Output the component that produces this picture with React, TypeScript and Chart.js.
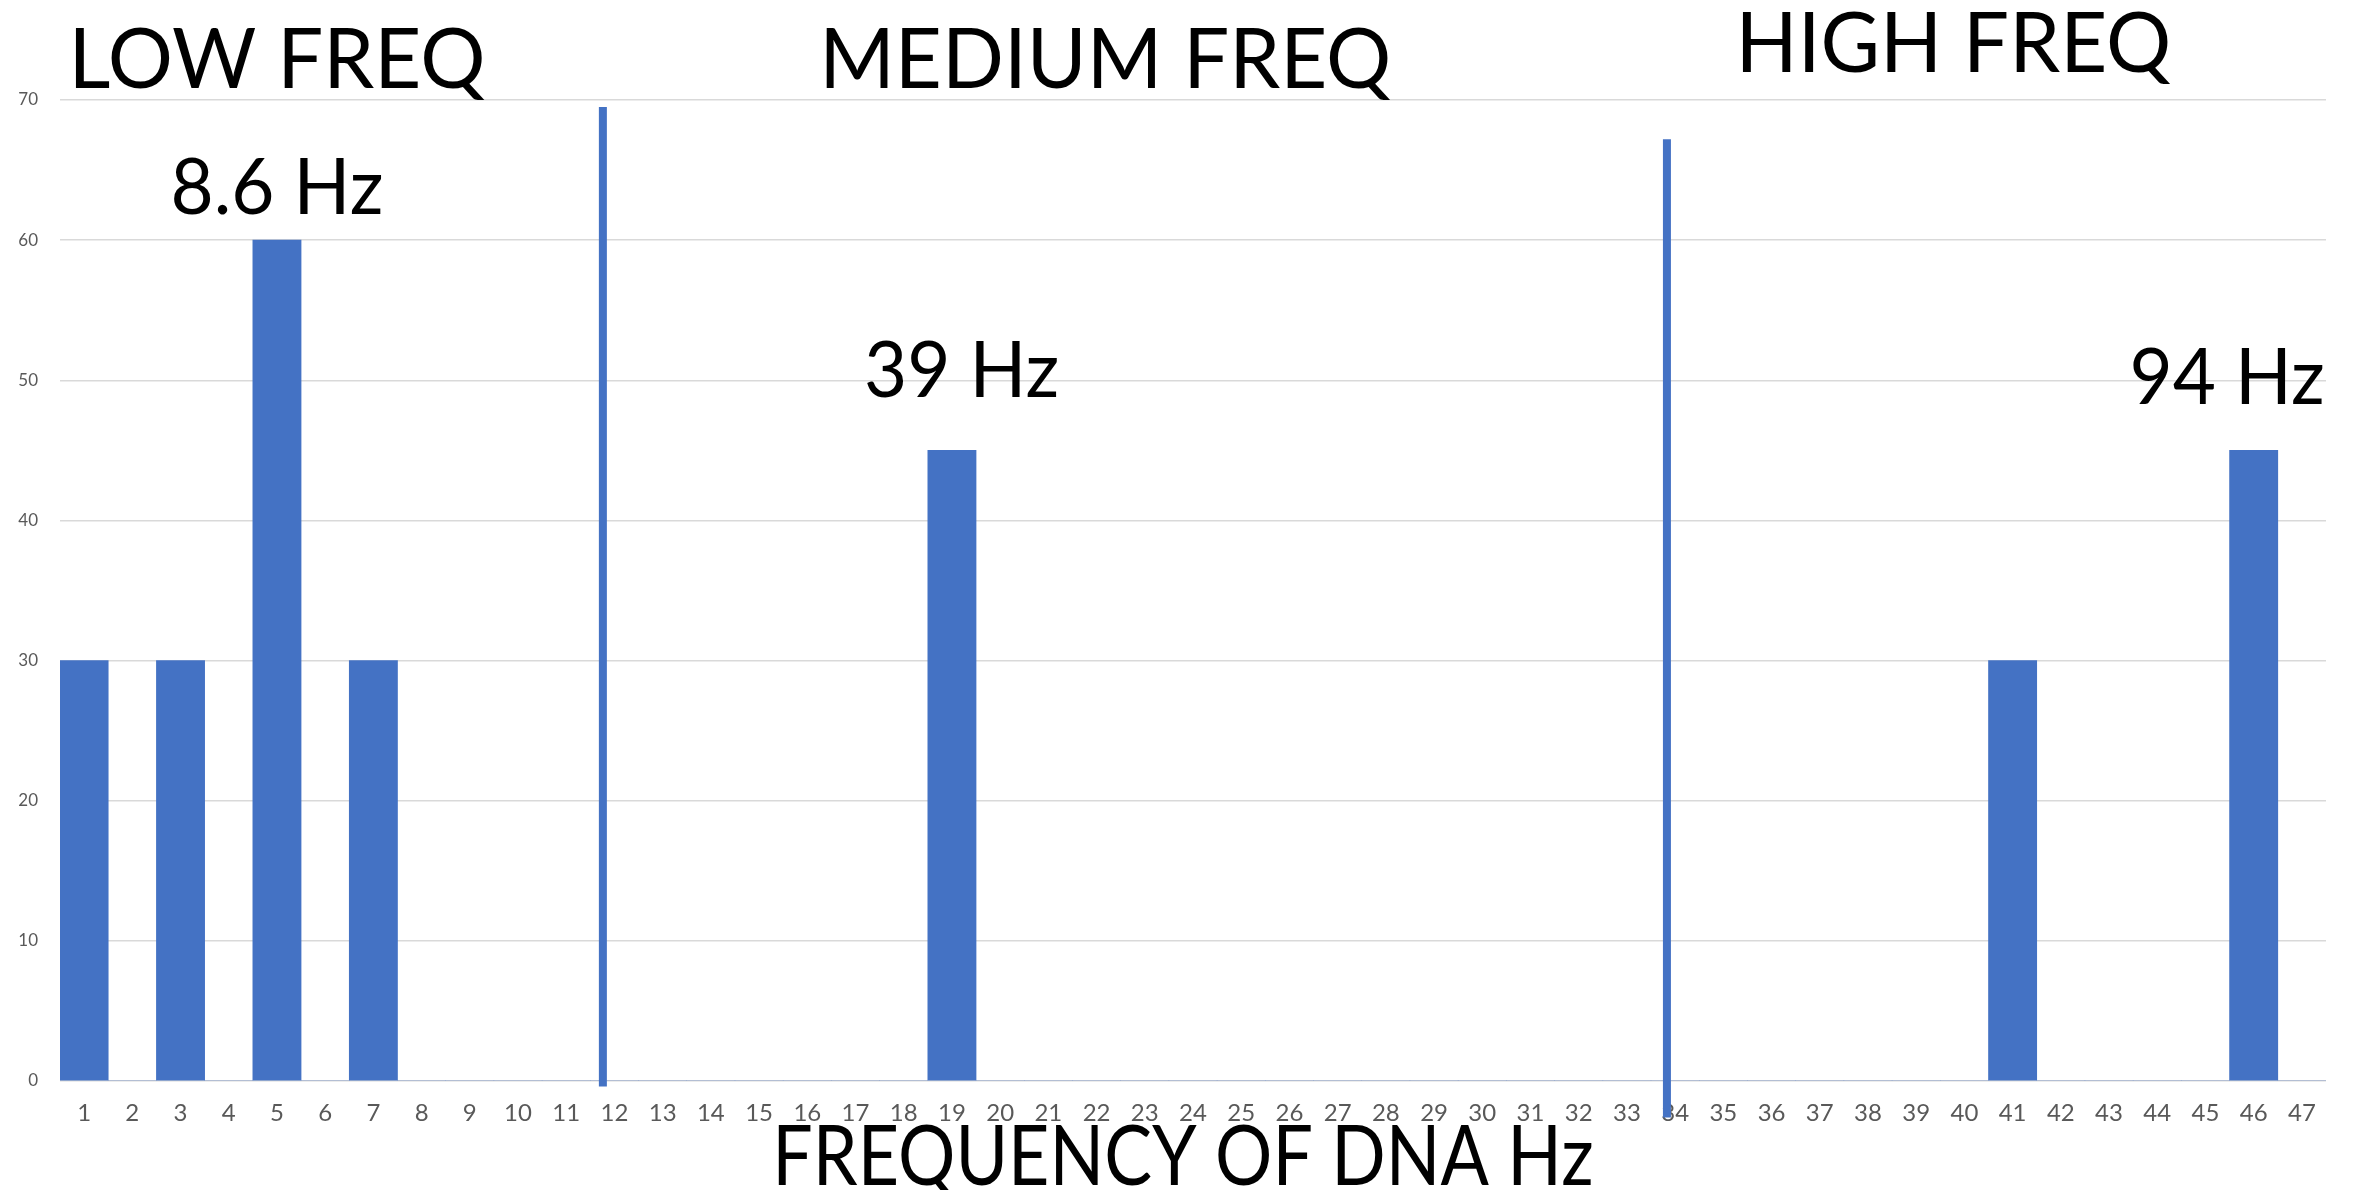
import React, { useEffect, useRef } from "react";
import { Chart, registerables } from "chart.js";

Chart.register(...registerables);

// ---- data ----
const categories = [
  "1", "2", "3", "4", "5", "6", "7", "8", "9", "10",
  "11", "12", "13", "14", "15", "16", "17", "18", "19", "20",
  "21", "22", "23", "24", "25", "26", "27", "28", "29", "30",
  "31", "32", "33", "34", "35", "36", "37", "38", "39", "40",
  "41", "42", "43", "44", "45", "46", "47",
];

const counts = [
  30, 0, 30, 0, 60, 0, 30, 0, 0, 0,
  0, 0, 0, 0, 0, 0, 0, 0, 45, 0,
  0, 0, 0, 0, 0, 0, 0, 0, 0, 0,
  0, 0, 0, 0, 0, 0, 0, 0, 0, 0,
  30, 0, 0, 0, 0, 45, 0,
];

const yMin = 0;
const yMax = 70;
const yStep = 10;

// band divider lines (category index position, value top, value bottom)
const dividerX = [10.76, 32.83];
const dividerTop = [69.5, 67.2];
const dividerBottom = [-0.4, -2.6];

// peak annotations (category index position, value of text baseline)
const peakLabels = ["8.6 Hz", "39 Hz", "94 Hz"];
const peakLabelX = [4.0, 18.2, 44.45];
const peakLabelY = [61.9, 48.8, 48.3];

// band headings (category index position)
const bandLabels = ["LOW FREQ", "MEDIUM FREQ", "HIGH FREQ"];
const bandLabelX = [4.0, 21.18, 38.77];

const xAxisTitle = "FREQUENCY OF DNA Hz";

const BLUE = "#4472C4";
const FONT = "Lato, 'Open Sans', sans-serif";

function drawText(ctx: CanvasRenderingContext2D, text: string, x: number, y: number, sx: number) {
  ctx.save();
  ctx.translate(x, y);
  ctx.scale(sx, 1);
  ctx.fillText(text, 0, 0);
  ctx.restore();
}

const overlayPlugin = {
  id: "overlay",
  afterDraw(chart: any) {
    const ctx = chart.ctx as CanvasRenderingContext2D;
    const xs = chart.scales.x;
    const ys = chart.scales.y;
    ctx.save();
    // divider lines
    ctx.strokeStyle = BLUE;
    ctx.lineWidth = 8;
    ctx.lineCap = "butt";
    for (let i = 0; i < dividerX.length; i++) {
      const px = xs.getPixelForValue(dividerX[i]);
      ctx.beginPath();
      ctx.moveTo(px, ys.getPixelForValue(dividerTop[i]));
      ctx.lineTo(px, ys.getPixelForValue(dividerBottom[i]));
      ctx.stroke();
    }
    // peak labels
    ctx.fillStyle = "#000000";
    ctx.textAlign = "center";
    ctx.textBaseline = "alphabetic";
    ctx.font = `78px ${FONT}`;
    for (let i = 0; i < peakLabels.length; i++) {
      drawText(
        ctx,
        peakLabels[i],
        xs.getPixelForValue(peakLabelX[i]),
        ys.getPixelForValue(peakLabelY[i]),
        0.955
      );
    }
    // band headings
    ctx.font = `84px ${FONT}`;
    const headingBaselines = [88, 88, 72];
    for (let i = 0; i < bandLabels.length; i++) {
      drawText(ctx, bandLabels[i], xs.getPixelForValue(bandLabelX[i]), headingBaselines[i], 0.97);
    }
    // x-axis title
    drawText(ctx, xAxisTitle, (chart.chartArea.left + chart.chartArea.right) / 2 - 10, 1185, 0.853);
    ctx.restore();
  },
};

export default function App() {
  const canvasRef = useRef<HTMLCanvasElement | null>(null);

  useEffect(() => {
    const canvas = canvasRef.current;
    if (!canvas) return;
    const chart = new Chart(canvas, {
      type: "bar",
      data: {
        labels: categories,
        datasets: [
          {
            data: counts,
            backgroundColor: BLUE,
            borderWidth: 0,
            barPercentage: 1,
            categoryPercentage: 1,
          },
        ],
      },
      options: {
        responsive: false,
        animation: false,
        devicePixelRatio: 1,
        layout: { padding: { left: 0, top: 100, right: 27, bottom: 0 } },
        plugins: {
          legend: { display: false },
          tooltip: { enabled: false },
          title: { display: false },
        },
        scales: {
          x: {
            type: "category",
            grid: { display: false, drawTicks: false },
            border: { display: false },
            ticks: {
              autoSkip: false,
              maxRotation: 0,
              minRotation: 0,
              padding: 18,
              color: "#595959",
              font: { family: FONT, size: 24 },
            },
            afterFit(scale: any) {
              scale.height = 109;
            },
          },
          y: {
            min: yMin,
            max: yMax,
            grid: { color: "#D9D9D9", lineWidth: 1.5, drawTicks: false },
            border: { display: false },
            ticks: {
              stepSize: yStep,
              padding: 22,
              color: "#595959",
              font: { family: FONT, size: 17 },
            },
            afterFit(scale: any) {
              scale.width = 60;
            },
          },
        },
      },
      plugins: [overlayPlugin],
    });
    return () => chart.destroy();
  }, []);

  return (
    <div style={{ position: "absolute", left: 0, top: 0, width: 2353, height: 1190, background: "#ffffff" }}>
      <canvas ref={canvasRef} width={2353} height={1190} style={{ display: "block", width: 2353, height: 1190 }} />
    </div>
  );
}
